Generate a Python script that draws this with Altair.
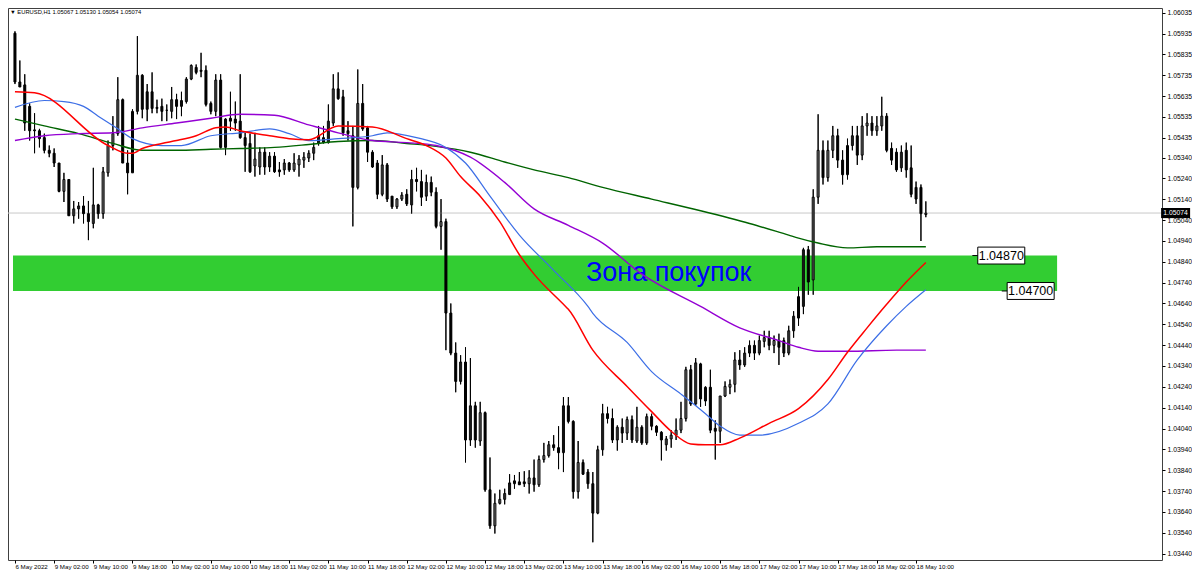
import altair as alt
import pandas as pd

# ---------------- data ----------------
opens = [1.05937,1.05703,1.05689,1.05586,1.05473,1.05469,1.05436,1.05375,1.05361,1.05314,
         1.05178,1.05235,1.05061,1.05094,1.05108,1.05071,1.05024,1.05113,1.05071,1.05267,
         1.05398,1.05455,1.05618,1.05314,1.05267,1.05562,1.05735,1.05656,1.05656,1.05581,
         1.05586,1.05567,1.05562,1.05618,1.05586,1.05609,1.05717,1.05773,1.05759,1.05759,
         1.05600,1.05562,1.05712,1.05389,1.05529,1.05525,1.05515,1.05436,1.05408,1.05300,
         1.05295,1.05366,1.05295,1.05347,1.05281,1.05281,1.05314,1.05281,1.05305,1.05328,
         1.05338,1.05361,1.05408,1.05412,1.05412,1.05506,1.05670,1.05632,1.05469,1.05445,
         1.05197,1.05600,1.05483,1.05366,1.05314,1.05164,1.05305,1.05155,1.05104,1.05141,
         1.05164,1.05113,1.05235,1.05225,1.05155,1.05221,1.05174,1.05010,1.05033,1.04594,
         1.04402,1.04266,1.04359,1.03985,1.04149,1.03980,1.04116,1.03746,1.03573,1.03681,
         1.03700,1.03723,1.03775,1.03784,1.03784,1.03775,1.03803,1.03770,1.03891,1.03910,
         1.03962,1.03948,1.03924,1.04149,1.04074,1.03737,1.03877,1.03831,1.03775,1.03634,
         1.03938,1.04111,1.04088,1.03985,1.04046,1.04018,1.04083,1.03980,1.04046,1.03971,
         1.04097,1.04051,1.04022,1.03962,1.03990,1.04008,1.04032,1.04088,1.04322,1.04158,
         1.04350,1.04172,1.04238,1.04041,1.04027,1.04196,1.04238,1.04252,1.04369,1.04345,
         1.04402,1.04439,1.04402,1.04458,1.04476,1.04439,1.04462,1.04462,1.04402,1.04509,
         1.04570,1.04626,1.04898,1.04753,1.05150,1.05375,1.05244,1.05375,1.05445,1.05328,
         1.05258,1.05398,1.05445,1.05352,1.05492,1.05506,1.05469,1.05492,1.05539,1.05384,
         1.05366,1.05291,1.05375,1.05291,1.05197,1.05197,1.05067]
highs = [1.05946,1.05806,1.05740,1.05600,1.05553,1.05478,1.05455,1.05398,1.05384,1.05314,
         1.05267,1.05235,1.05132,1.05127,1.05155,1.05132,1.05291,1.05118,1.05295,1.05422,
         1.05539,1.05726,1.05623,1.05375,1.05572,1.05923,1.05740,1.05693,1.05749,1.05618,
         1.05623,1.05595,1.05679,1.05646,1.05656,1.05726,1.05787,1.05787,1.05843,1.05782,
         1.05609,1.05740,1.05740,1.05529,1.05656,1.05609,1.05740,1.05459,1.05455,1.05459,
         1.05389,1.05389,1.05366,1.05366,1.05319,1.05333,1.05319,1.05361,1.05352,1.05366,
         1.05375,1.05412,1.05492,1.05492,1.05595,1.05740,1.05749,1.05665,1.05515,1.05492,
         1.05763,1.05693,1.05492,1.05375,1.05328,1.05352,1.05314,1.05155,1.05146,1.05174,
         1.05188,1.05281,1.05291,1.05281,1.05258,1.05249,1.05197,1.05141,1.05047,1.04640,
         1.04453,1.04392,1.04430,1.04378,1.04168,1.04168,1.04121,1.03901,1.03728,1.03746,
         1.03751,1.03821,1.03817,1.03831,1.03835,1.03840,1.03891,1.03910,1.03971,1.03980,
         1.04008,1.04051,1.04191,1.04191,1.04079,1.03980,1.03891,1.03845,1.03831,1.03957,
         1.04158,1.04144,1.04135,1.04055,1.04088,1.04097,1.04102,1.04144,1.04055,1.04111,
         1.04111,1.04055,1.04027,1.04004,1.04032,1.04088,1.04168,1.04336,1.04345,1.04378,
         1.04355,1.04242,1.04322,1.04079,1.04196,1.04266,1.04275,1.04406,1.04416,1.04430,
         1.04462,1.04462,1.04486,1.04509,1.04509,1.04486,1.04495,1.04476,1.04533,1.04603,
         1.04720,1.04907,1.04916,1.05188,1.05548,1.05422,1.05422,1.05492,1.05478,1.05375,
         1.05431,1.05492,1.05492,1.05539,1.05553,1.05539,1.05539,1.05632,1.05553,1.05412,
         1.05384,1.05398,1.05412,1.05398,1.05225,1.05211,1.05130]
lows = [1.05693,1.05679,1.05469,1.05422,1.05361,1.05389,1.05361,1.05342,1.05295,1.05174,
        1.05127,1.05061,1.05024,1.05047,1.05024,1.04944,1.05001,1.05047,1.05047,1.05249,
        1.05375,1.05445,1.05314,1.05164,1.05267,1.05548,1.05529,1.05515,1.05553,1.05553,
        1.05515,1.05515,1.05529,1.05525,1.05539,1.05600,1.05712,1.05740,1.05726,1.05586,
        1.05548,1.05539,1.05384,1.05352,1.05469,1.05469,1.05431,1.05272,1.05267,1.05249,
        1.05258,1.05258,1.05272,1.05267,1.05249,1.05258,1.05272,1.05272,1.05249,1.05291,
        1.05319,1.05328,1.05398,1.05408,1.05408,1.05492,1.05618,1.05445,1.05422,1.05010,
        1.05188,1.05469,1.05319,1.05291,1.05141,1.05155,1.05127,1.05094,1.05094,1.05132,
        1.05108,1.05071,1.05178,1.05108,1.05132,1.05155,1.05001,1.04898,1.04416,1.04392,
        1.04214,1.04252,1.03877,1.03957,1.03948,1.03957,1.03737,1.03559,1.03536,1.03676,
        1.03676,1.03723,1.03751,1.03770,1.03760,1.03728,1.03737,1.03760,1.03877,1.03901,
        1.03934,1.03845,1.03831,1.04065,1.03704,1.03704,1.03817,1.03751,1.03494,1.03629,
        1.03910,1.04065,1.03971,1.03934,1.03971,1.03985,1.03971,1.03971,1.03962,1.03962,
        1.04032,1.04004,1.03887,1.03934,1.03948,1.03985,1.04018,1.04074,1.04149,1.04149,
        1.04144,1.04149,1.04018,1.03891,1.03971,1.04191,1.04205,1.04214,1.04322,1.04336,
        1.04383,1.04369,1.04392,1.04430,1.04416,1.04402,1.04345,1.04383,1.04392,1.04476,
        1.04533,1.04589,1.04682,1.04682,1.05118,1.05211,1.05225,1.05338,1.05291,1.05211,
        1.05235,1.05375,1.05305,1.05328,1.05445,1.05445,1.05445,1.05469,1.05366,1.05305,
        1.05272,1.05272,1.05244,1.05150,1.05118,1.04940,1.05054]
closes = [1.05703,1.05679,1.05506,1.05469,1.05469,1.05431,1.05375,1.05361,1.05314,1.05178,
          1.05235,1.05061,1.05094,1.05108,1.05071,1.05033,1.05113,1.05071,1.05272,1.05398,
          1.05455,1.05618,1.05314,1.05267,1.05562,1.05735,1.05572,1.05572,1.05576,1.05576,
          1.05562,1.05567,1.05618,1.05586,1.05614,1.05717,1.05782,1.05749,1.05754,1.05595,
          1.05562,1.05712,1.05389,1.05525,1.05515,1.05506,1.05436,1.05398,1.05272,1.05333,
          1.05366,1.05295,1.05347,1.05272,1.05272,1.05314,1.05281,1.05314,1.05333,1.05342,
          1.05361,1.05389,1.05445,1.05436,1.05515,1.05670,1.05623,1.05459,1.05455,1.05197,
          1.05600,1.05478,1.05366,1.05295,1.05164,1.05305,1.05141,1.05104,1.05141,1.05160,
          1.05118,1.05235,1.05225,1.05150,1.05221,1.05174,1.05010,1.05033,1.04594,1.04402,
          1.04266,1.04359,1.03985,1.04149,1.03985,1.04116,1.03746,1.03573,1.03681,1.03700,
          1.03728,1.03779,1.03789,1.03770,1.03775,1.03803,1.03770,1.03891,1.03910,1.03962,
          1.03948,1.03924,1.04149,1.04074,1.03737,1.03877,1.03821,1.03775,1.03634,1.03938,
          1.04111,1.04088,1.03985,1.04046,1.04018,1.04083,1.03985,1.04046,1.03971,1.04097,
          1.04051,1.04022,1.03985,1.03990,1.04008,1.04032,1.04088,1.04322,1.04158,1.04355,
          1.04182,1.04238,1.04032,1.04027,1.04196,1.04242,1.04252,1.04369,1.04345,1.04402,
          1.04439,1.04402,1.04462,1.04476,1.04439,1.04462,1.04430,1.04402,1.04509,1.04579,
          1.04673,1.04898,1.04743,1.05150,1.05375,1.05244,1.05375,1.05445,1.05328,1.05258,
          1.05398,1.05445,1.05352,1.05492,1.05506,1.05469,1.05492,1.05539,1.05375,1.05328,
          1.05281,1.05366,1.05281,1.05164,1.05141,1.05071,1.05074]

# moving averages (bar index, value)
red_bars = [0,4,19,23,24,26,30,33,37,41,43,46,52,56,60,66,73,80,84,88,91,95,99,103,106,
            112,113,118,125,130,134,138,141,144,148,154,160,166,170,174,178,182,186]
red_vals = [1.05656,1.05651,1.05398,1.05361,1.05361,1.05384,1.05408,1.05422,1.05445,1.05483,
            1.05487,1.05469,1.05445,1.05431,1.05426,1.05492,1.05487,1.05431,1.05398,1.05338,
            1.05249,1.05155,1.05033,1.04874,1.04781,1.04636,1.04612,1.04416,1.04242,1.04121,
            1.04027,1.03966,1.03962,1.03962,1.03994,1.04065,1.04135,1.04275,1.04406,1.04523,
            1.04636,1.04743,1.04837]
blue_bars = [0,6,10,14,17,21,24,30,34,40,46,52,56,60,66,73,76,82,88,92,97,103,110,117,118,
             125,130,136,141,144,148,152,160,166,172,178,182,186]
blue_vals = [1.05581,1.05614,1.05609,1.05586,1.05539,1.05478,1.05431,1.05398,1.05398,1.05445,
             1.05459,1.05478,1.05455,1.05422,1.05431,1.05445,1.05459,1.05436,1.05389,1.05314,
             1.05155,1.04968,1.04799,1.04626,1.04593,1.04453,1.04313,1.04205,1.04111,1.04051,
             1.04008,1.04008,1.04065,1.04158,1.04369,1.04533,1.04626,1.04706]
purple_bars = [0,6,13,20,26,33,40,46,53,60,66,73,80,86,93,100,106,113,120,128,140,148,156,
               160,164,170,180,186]
purple_vals = [1.05422,1.05445,1.05455,1.05459,1.05483,1.05506,1.05529,1.05548,1.05543,1.05497,
               1.05459,1.05422,1.05412,1.05398,1.05342,1.05221,1.05094,1.05015,1.04930,1.04781,
               1.04626,1.04523,1.04462,1.04430,1.04411,1.04411,1.04416,1.04416]
green_bars = [0,6,13,20,26,33,40,46,53,60,66,73,80,86,93,100,106,113,120,130,140,150,158,
              160,164,170,176,186]
green_vals = [1.05525,1.05492,1.05455,1.05408,1.05375,1.05375,1.05380,1.05384,1.05389,1.05403,
              1.05417,1.05422,1.05408,1.05394,1.05366,1.05319,1.05281,1.05244,1.05197,1.05141,
              1.05085,1.05024,1.04968,1.04954,1.04930,1.04907,1.04912,1.04912]

time_labels = ["6 May 2022", "9 May 02:00", "9 May 10:00", "9 May 18:00", "10 May 02:00",
               "10 May 10:00", "10 May 18:00", "11 May 02:00", "11 May 10:00", "11 May 18:00",
               "12 May 02:00", "12 May 10:00", "12 May 18:00", "13 May 02:00", "13 May 10:00",
               "13 May 18:00", "16 May 02:00", "16 May 10:00", "16 May 18:00", "17 May 02:00",
               "17 May 10:00", "17 May 18:00", "18 May 02:00", "18 May 10:00"]
time_label_bars = [0, 8, 16, 24, 32, 40, 48, 56, 64, 72, 80, 88, 96, 104, 112, 120, 128,
                   136, 144, 152, 160, 168, 176, 184]
price_ticks = [1.06035, 1.05935, 1.05835, 1.05735, 1.05635, 1.05535, 1.05435,
               1.05340, 1.05240, 1.05140, 1.05040, 1.04940, 1.04840, 1.04740,
               1.04640, 1.04540, 1.04440, 1.04340, 1.04240, 1.04140, 1.04040,
               1.03940, 1.03840, 1.03740, 1.03640, 1.03540, 1.03440]

zone_top = 1.04870
zone_bottom = 1.04700
zone_text = "Зона покупок"
symbol = "EURUSD,H1"

# ---------------- build ----------------
W, H = 1154, 552
xs = alt.Scale(domain=[-0.4, 233.2], nice=False, zero=False)
ys = alt.Scale(domain=[1.03409, 1.06058], nice=False, zero=False)

df = pd.DataFrame({"bar": list(range(len(opens))), "open": opens, "high": highs,
                   "low": lows, "close": closes})

tl = "[" + ",".join("'%s'" % t for t in time_labels) + "]"

xaxis = alt.Axis(values=time_label_bars, labelExpr=tl + "[round(datum.value/8)]",
                 title=None, grid=False, domain=False, ticks=True, tickSize=3,
                 tickColor="#000000", labelColor="#000000", labelFontSize=6.2,
                 labelFont="Liberation Sans", labelAlign="left", labelPadding=0,
                 labelOverlap=False, labelFlush=False)
yaxis = alt.Axis(orient="right", values=price_ticks, format=".5f",
                 title=None, grid=False, domain=False, ticks=True, tickSize=3,
                 tickColor="#000000", labelColor="#000000", labelFontSize=6.8,
                 labelFont="Liberation Sans", labelPadding=2, labelOverlap=False,
                 labelFlush=False, labelBaseline="middle")


def X(field):
    return alt.X(field, scale=xs, axis=xaxis)


def Y(field):
    return alt.Y(field, scale=ys, axis=yaxis)


wick = alt.Chart(df).mark_rule(color="#000000", strokeWidth=1).encode(
    x=X("bar:Q"), y=Y("low:Q"), y2="high:Q")

zone_df = pd.DataFrame({"x1": [-0.4], "x2": [212.8], "y1": [zone_bottom], "y2": [zone_top]})
zone = alt.Chart(zone_df).mark_rect(color="#32CD32").encode(
    x=X("x1:Q"), x2="x2:Q", y=Y("y1:Q"), y2="y2:Q")

ztext_df = pd.DataFrame({"bar": [116.6], "p": [(zone_top + zone_bottom) / 2], "t": [zone_text]})
ztext = alt.Chart(ztext_df).mark_text(align="left", baseline="middle", fontSize=27,
                                      font="Liberation Sans", color="#0000FF").encode(
    x=X("bar:Q"), y=Y("p:Q"), text="t:N")

last_close = closes[-1]
bid_df = pd.DataFrame({"p": [last_close]})
bid = alt.Chart(bid_df).mark_rule(color="#C8C8C8", strokeWidth=1).encode(y=Y("p:Q"))

body = alt.Chart(df).mark_bar(size=2, stroke="#000000", strokeWidth=1).encode(
    x=X("bar:Q"), y=Y("open:Q"), y2="close:Q",
    fill=alt.condition("datum.close >= datum.open", alt.value("#FFFFFF"), alt.value("#000000")))


def ma_layer(bars, vals, color, width):
    d = pd.DataFrame({"bar": bars, "v": vals})
    return alt.Chart(d).mark_line(color=color, strokeWidth=width, interpolate="monotone").encode(
        x=X("bar:Q"), y=Y("v:Q"))


green = ma_layer(green_bars, green_vals, "#006400", 1.4)
purple = ma_layer(purple_bars, purple_vals, "#9400D3", 1.4)
blue = ma_layer(blue_bars, blue_vals, "#3C6EE6", 1.2)
red = ma_layer(red_bars, red_vals, "#FF0000", 1.5)

# level labels (MT4 style boxes)
lvl_df = pd.DataFrame({"bar": [201.4, 207.4], "p": [zone_top, zone_bottom],
                       "t": ["%.5f" % zone_top, "%.5f" % zone_bottom],
                       "d1": [195.5, 201.5], "d2": [196.7, 202.7]})
lvl_dash = alt.Chart(lvl_df).mark_rule(color="#000000", strokeWidth=1).encode(
    x=X("d1:Q"), x2="d2:Q", y=Y("p:Q"))
lvl_box = alt.Chart(lvl_df).mark_point(shape="M-1,-0.36H1V0.36H-1Z", size=2209, filled=True,
                                       fill="#FFFFFF", stroke="#000000", strokeWidth=1,
                                       opacity=1).encode(x=X("bar:Q"), y=Y("p:Q"))
lvl_text = alt.Chart(lvl_df).mark_text(fontSize=12.5, font="Liberation Sans", color="#000000",
                                       baseline="middle", align="center").encode(
    x=X("bar:Q"), y=Y("p:Q"), text="t:N")

# current price marker on the price axis
cur_df = pd.DataFrame({"bar": [237.0], "p": [last_close], "t": ["%.5f" % last_close]})
cur_box = alt.Chart(cur_df).mark_point(shape="M-1,-0.35H1V0.35H-1Z", size=841, filled=True,
                                       fill="#000000", opacity=1).encode(
    x=X("bar:Q"), y=Y("p:Q"))
cur_text = alt.Chart(cur_df).mark_text(fontSize=6.8, font="Liberation Sans", color="#FFFFFF",
                                       baseline="middle", align="center").encode(
    x=X("bar:Q"), y=Y("p:Q"), text="t:N")

# header text
head = "\u25BC " + symbol + "  " + " ".join("%.5f" % v for v in
                                             [opens[-1], highs[-1], lows[-1], closes[-1]])
head_df = pd.DataFrame({"t": [head]})
header = alt.Chart(head_df).mark_text(fontSize=5.8, font="Liberation Sans", color="#000000",
                                      align="left", baseline="top").encode(
    x=alt.value(2), y=alt.value(1), text="t:N")

chart = alt.layer(wick, zone, ztext, bid, body, wick, green, purple, blue, red,
                  lvl_dash, lvl_box, lvl_text, cur_box, cur_text, header).properties(
    width=W, height=H,
    padding={"left": 0, "top": 0, "right": 30, "bottom": 11},
    autosize=alt.AutoSizeParams(type="none"),
    background="#FFFFFF"
).configure_view(stroke="#404040", strokeWidth=1)

chart.save("out.html", embed_options={"renderer": "svg", "actions": False})
